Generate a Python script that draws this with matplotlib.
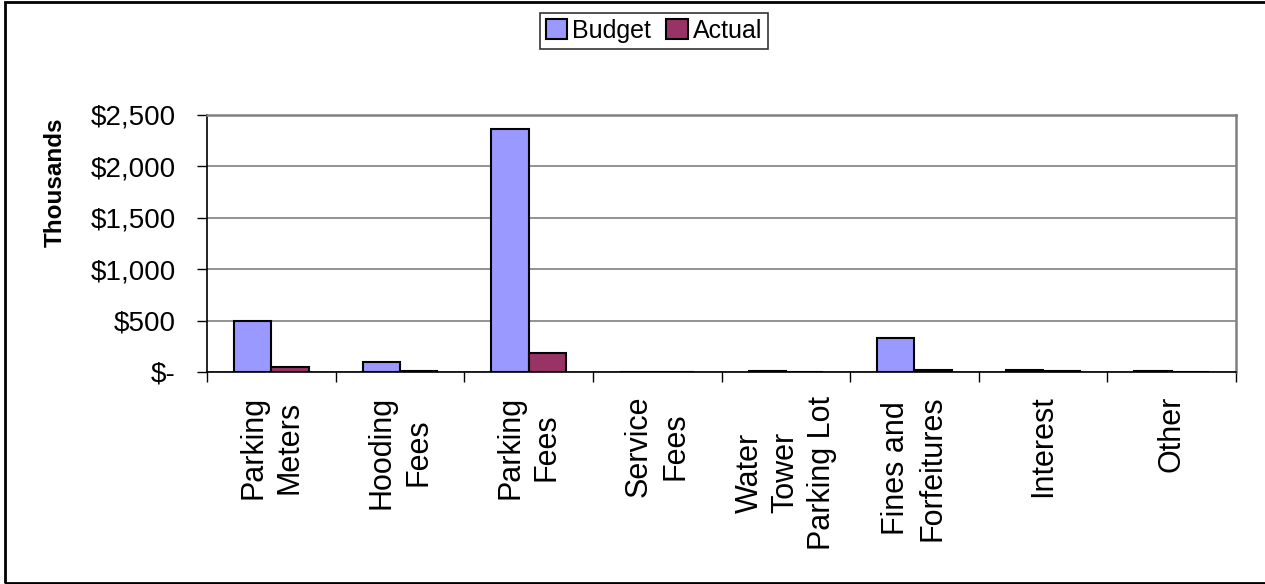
import matplotlib.pyplot as plt
import numpy as np
from matplotlib.patches import Rectangle

plt.rcParams["font.family"] = ["Liberation Sans", "DejaVu Sans"]

categories = [
    "Parking\nMeters",
    "Hooding\nFees",
    "Parking\nFees",
    "Service\nFees",
    "Water\nTower\nParking Lot",
    "Fines and\nForfeitures",
    "Interest",
    "Other",
]
budget = [500, 95, 2365, 0, 8, 328, 22, 12]
actual = [46, 5, 186, 0, 0, 15, 6, 0]
yticks = [0, 500, 1000, 1500, 2000, 2500]
ytick_labels = ["$-", "$500", "$1,000", "$1,500", "$2,000", "$2,500"]

W, H = 1265, 584
fig = plt.figure(figsize=(W / 100, H / 100), dpi=100)
ax = fig.add_axes([207 / W, 1 - 372 / H, (1236 - 207) / W, (372 - 115) / H])

x = np.arange(len(categories))
bw = 0.29
ax.bar(x - bw / 2, budget, bw, color="#9999FF", edgecolor="black", linewidth=1.5,
       label="Budget", zorder=3)
ax.bar(x + bw / 2, actual, bw, color="#993366", edgecolor="black", linewidth=1.5,
       label="Actual", zorder=3)

ax.set_xlim(-0.5, len(categories) - 0.5)
ax.set_ylim(0, 2500)
ax.set_yticks(yticks)
ax.set_yticklabels(ytick_labels)
ax.yaxis.grid(True, color="#808080", linewidth=1.2, zorder=0)

ax.set_xticks(x)
ax.set_xticklabels(categories, rotation=90, va="top", ha="center",
                   multialignment="center", fontsize=22, linespacing=1.28)
ax.set_xticks(np.arange(len(categories) + 1) - 0.5, minor=True)
ax.tick_params(axis="x", which="major", length=0, pad=17)
ax.tick_params(axis="x", which="minor", length=7.5, width=1, direction="out")
ax.tick_params(axis="y", length=7.5, width=1, direction="out", pad=15, labelsize=20)

for s in ["top", "right"]:
    ax.spines[s].set_color("#808080")
    ax.spines[s].set_linewidth(1.8)
for s in ["left", "bottom"]:
    ax.spines[s].set_color("black")
    ax.spines[s].set_linewidth(1.2)

fig.text(55 / W, 1 - 182 / H, "Thousands", rotation=90, ha="center", va="center",
         fontsize=17.5, fontweight="bold")

leg = fig.legend(loc="center", bbox_to_anchor=(654 / W, 1 - 31 / H), ncol=2,
                 fontsize=18, frameon=True, fancybox=False, handlelength=0.85,
                 handleheight=0.85, handletextpad=0.2, columnspacing=0.6,
                 borderpad=0.25, borderaxespad=0)
leg.get_frame().set_edgecolor("black")
leg.get_frame().set_linewidth(1.2)

fig.patches.append(Rectangle((5 / W, 1.5 / H), 1.2, 1 - 3 / H, transform=fig.transFigure,
                             fill=False, edgecolor="black", linewidth=2))

fig.savefig("out.png", dpi=100)
